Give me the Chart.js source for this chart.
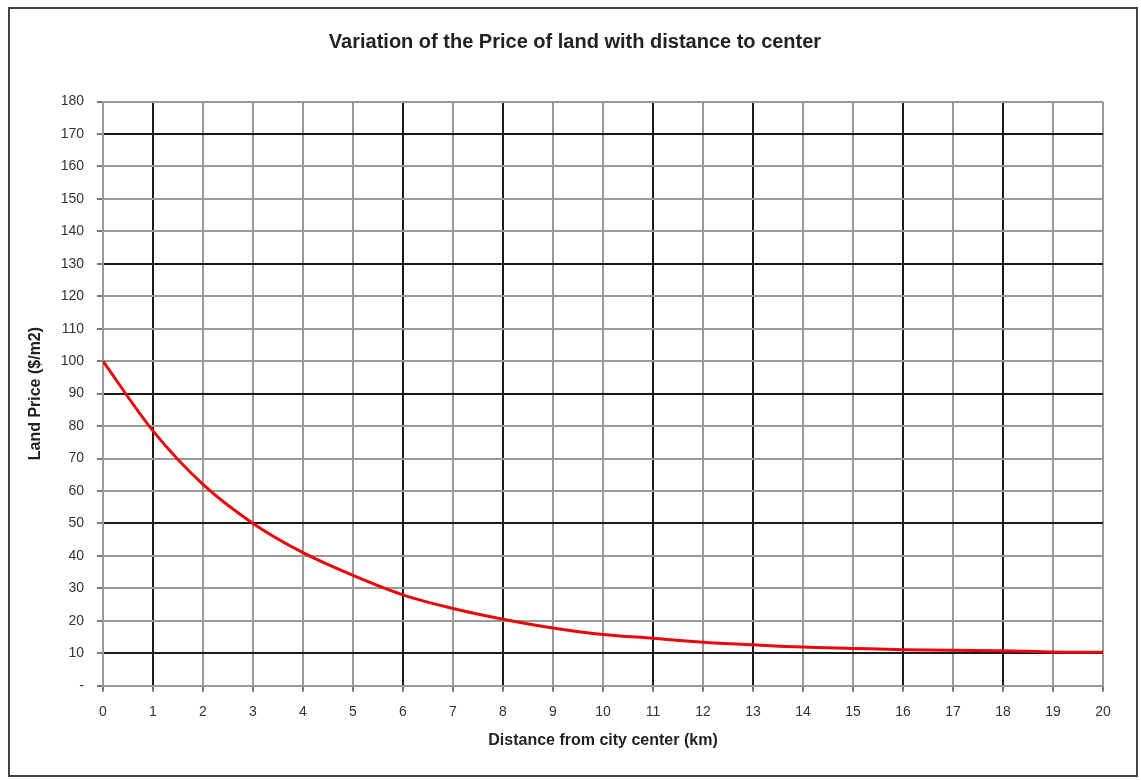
<!DOCTYPE html>
<html>
<head>
<meta charset="utf-8">
<script src="https://cdn.jsdelivr.net/npm/chart.js@4.4.1/dist/chart.umd.min.js"></script>
<style>
  html, body { margin: 0; background: #fff; }
  #wrap { width: 1141px; height: 780px; }
</style>
</head>
<body>
<div id="wrap"><canvas id="chart"></canvas></div>
<script>
const distances = [0, 1, 2, 3, 4, 5, 6, 7, 8, 9, 10, 11, 12, 13, 14, 15, 16, 17, 18, 19, 20];
const prices = [100, 78.5, 62, 50, 41, 34, 28, 23.8, 20.5, 17.8, 15.8, 14.6, 13.4, 12.6, 11.9, 11.5, 11.1, 10.9, 10.8, 10.4, 10.3];
const darkX = [1, 6, 8, 11, 13, 16, 18];
const darkY = [10, 50, 90, 130, 170];

const fontName = '"Liberation Sans", Arial, sans-serif';

const frame = {
    id: 'frame',
    afterDraw(chart) {
        const ctx = chart.ctx;
        ctx.save();
        ctx.strokeStyle = '#444';
        ctx.lineWidth = 2;
        ctx.strokeRect(9, 8, 1128, 768);
        ctx.restore();
    }
};

new Chart(document.getElementById('chart'), {
    type: 'scatter',
    data: {
        datasets: [{
            data: distances.map((d, i) => ({ x: d, y: prices[i] })),
            showLine: true,
            borderColor: '#e8080c',
            borderWidth: 3,
            pointRadius: 0,
            cubicInterpolationMode: 'monotone'
        }]
    },
    options: {
        responsive: true,
        maintainAspectRatio: false,
        animation: false,
        layout: { padding: { left: 26, right: 17, top: 0, bottom: 0 } },
        plugins: {
            legend: { display: false },
            tooltip: { enabled: false },
            title: {
                display: true,
                text: 'Variation of the Price of land with distance to center',
                color: '#222',
                font: { family: fontName, size: 20, weight: 'bold' },
                padding: { top: 30, bottom: 47.5 }
            }
        },
        scales: {
            x: {
                type: 'linear',
                min: 0, max: 20,
                ticks: { stepSize: 1, autoSkip: false, maxRotation: 0, color: '#333', padding: 12,
                    font: { family: fontName, size: 14 } },
                grid: {
                    color: c => darkX.includes(c.tick.value) ? '#1a1a1a' : '#999',
                    lineWidth: 2,
                    tickLength: 6,
                    tickColor: '#777'
                },
                border: { color: '#999', width: 2 },
                title: { display: true, text: 'Distance from city center (km)', color: '#222',
                    font: { family: fontName, size: 16, weight: 'bold' }, padding: { top: 0, bottom: 29.5 } },
                afterFit: s => { s.height = 94.3; }
            },
            y: {
                min: 0, max: 180,
                ticks: { stepSize: 10, color: '#333', padding: 13,
                    font: { family: fontName, size: 14 },
                    callback: v => v === 0 ? '-' : v },
                grid: {
                    color: c => darkY.includes(c.tick.value) ? '#1a1a1a' : '#999',
                    lineWidth: 2,
                    tickLength: 6,
                    tickColor: '#777'
                },
                border: { color: '#999', width: 2 },
                title: { display: true, text: 'Land Price ($/m2)', color: '#222',
                    font: { family: fontName, size: 16, weight: 'bold' }, padding: { top: 0, bottom: 0 } },
                afterFit: s => { s.width = 77; }
            },
            yR: {
                position: 'right',
                min: 0, max: 180,
                ticks: { display: false },
                grid: { display: false },
                border: { display: false },
                afterFit: s => { s.width = 21; }
            }
        }
    },
    plugins: [frame]
});
</script>
</body>
</html>
